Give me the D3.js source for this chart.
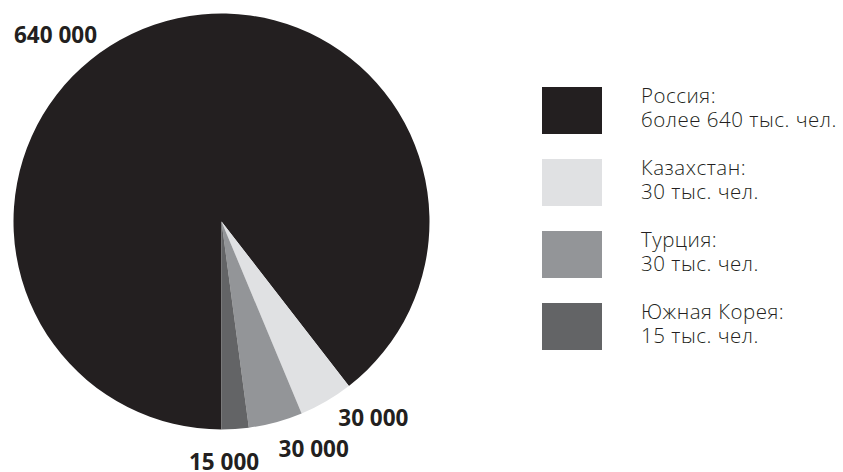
<!DOCTYPE html>
<html><head><meta charset="utf-8">
<script src="https://cdn.jsdelivr.net/npm/d3@7"></script>
<style>body{margin:0;background:#fff}svg{display:block}</style>
</head><body>
<svg id="c" width="843" height="472"></svg>
<script>
const countries = ["Россия", "Казахстан", "Турция", "Южная Корея"];
const values = [640000, 30000, 30000, 15000];
const valueLabels = ["640 000", "30 000", "30 000", "15 000"];
const legendLines = ["более 640 тыс. чел.", "30 тыс. чел.", "30 тыс. чел.", "15 тыс. чел."];
const colors = ["#231f20", "#e0e1e3", "#939598", "#636466"];

const svg = d3.select("#c");
const cx = 221.5, cy = 221.5, R = 208;
const data = countries.map((c, i) => ({c, v: values[i], i}));
const pie = d3.pie().value(d => d.v).sort(null).startAngle(Math.PI).endAngle(3 * Math.PI);
const arcs = pie(data);
const arc = d3.arc().innerRadius(0).outerRadius(R);
const g = svg.append("g").attr("transform", `translate(${cx},${cy})`);
g.selectAll("path").data(arcs).join("path")
  .attr("d", arc).attr("fill", d => colors[d.data.i]);

// label placement: fraction along slice and radius
const labelPlace = [
  {t: 0.4295, r: 250},
  {t: 0.0, r: 248},
  {t: 0.037, r: 245},
  {t: 0.92, r: 241}
];
g.selectAll("text.v").data(arcs).join("text").attr("class", "v")
  .each(function(d) {
    const p = labelPlace[d.data.i];
    const a = d.startAngle + (d.endAngle - d.startAngle) * p.t;
    d3.select(this)
      .attr("x", Math.sin(a) * p.r)
      .attr("y", -Math.cos(a) * p.r + 8);
  })
  .attr("text-anchor", "middle")
  .attr("font-family", "'Open Sans', sans-serif").attr("font-weight", 700)
  .attr("font-size", 22.5).attr("fill", "#231f20")
  .text(d => valueLabels[d.data.i]);

// legend
const ly = d3.scaleBand().domain(countries).range([87, 87 + 72 * 4]).paddingInner(0);
const items = svg.append("g").selectAll("g").data(data).join("g")
  .attr("transform", d => `translate(542,${ly(d.c)})`);
items.append("rect").attr("width", 60).attr("height", 47).attr("fill", d => colors[d.i]);
const t = items.append("text")
  .attr("font-family", "'Open Sans', sans-serif").attr("font-weight", 300)
  .attr("font-size", 20.5).attr("letter-spacing", 0.5).attr("fill", "#231f20");
t.append("tspan").attr("x", 99).attr("y", 16).text(d => d.c + ":");
t.append("tspan").attr("x", 99).attr("y", 40).text(d => legendLines[d.i]);
</script>
</body></html>
